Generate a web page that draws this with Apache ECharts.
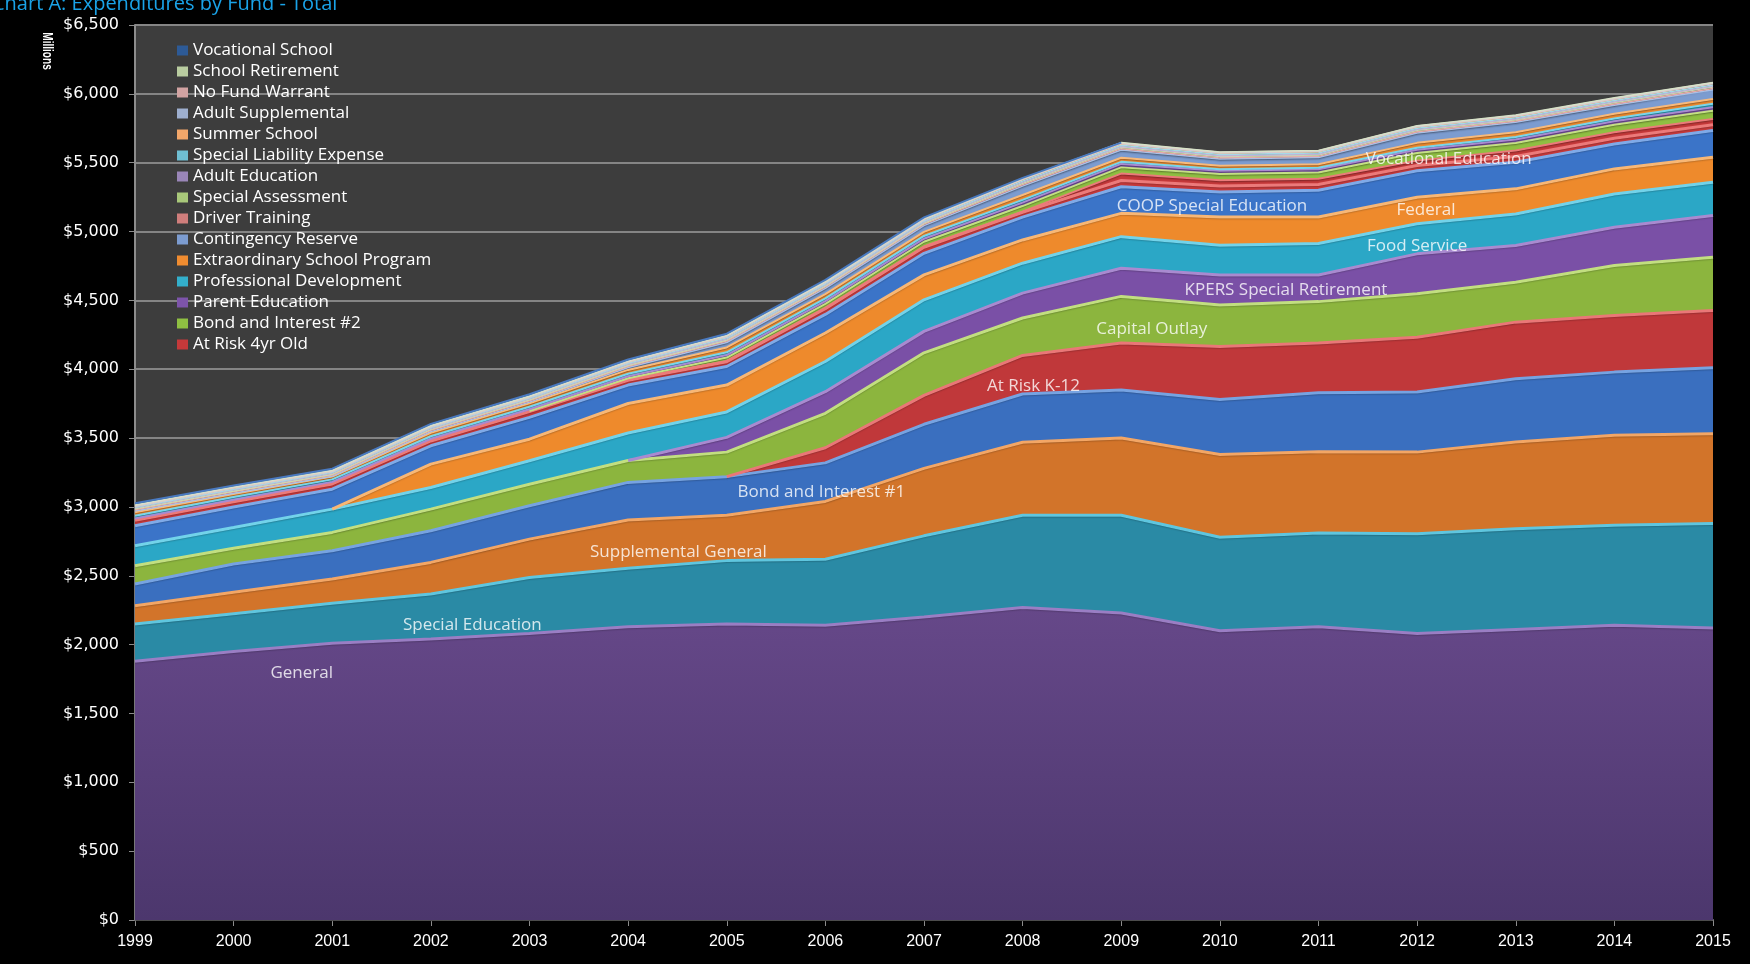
<!DOCTYPE html>
<html>
<head>
<meta charset="utf-8">
<script src="https://cdn.jsdelivr.net/npm/echarts@6/dist/echarts.min.js"></script>
<style>
html,body{margin:0;padding:0;background:#000;}
#chart{width:1750px;height:964px;}
</style>
</head>
<body>
<div id="chart"></div>
<script>
// ---------- DATA (millions of dollars) ----------
const years = ['1999','2000','2001','2002','2003','2004','2005','2006','2007','2008','2009','2010','2011','2012','2013','2014','2015'];

const general                   = [1880,1950,2010,2040,2080,2130,2150,2140,2200,2270,2230,2100,2130,2080,2110,2140,2120];
const specialEducation          = [270,275,290,327,408,425,460,480,590,670,710,680,680,726,732,726,759];
const supplementalGeneral       = [133,155,176,230,278,350,330,420,490,530,560,600,590,592,629,654,653];
const bondInterest1             = [157,205,206,230,242,273,280,280,320,350,350,400,430,436,460,459,478];
const atRiskK12                 = [null,null,null,null,null,null,0,110,210,280,340,385,360,399,411,411,417];
const capitalOutlay             = [133,115,133,157,157,159,178,250,309,272,339,301,301,315,290,363,386];
const kpersSpecialRetirement    = [null,null,null,null,null,0,107,157,156,181,204,218,193,290,266,278,303];
const foodService               = [145,150,169,157,170,200,185,219,229,217,230,217,229,218,230,242,242];
const federal                   = [null,null,0,170,157,214,195,207,181,169,169,205,193,193,182,182,182];
const coopSpecialEducation      = [145,150,145,133,158,134,135,135,157,166,193,182,194,193,193,181,193];
const vocationalEducation       = [40,38,38,35,42,35,35,42,44,35,46,42,42,38,42,42,42];
const atRisk4yrOld              = [5,5,5,5,5,5,5,5,5,5,50,42,42,35,43,43,43];
const bondInterest2             = [null,null,null,null,0,10,25,30,35,40,45,45,45,55,55,55,60];
const parentEducation           = [8,9,10,11,12,14,18,20,22,25,25,24,23,24,25,25,25];
const professionalDevelopment   = [20,20,18,18,18,18,20,20,20,20,15,12,12,15,18,20,25];
const extraordinarySchoolProgram= [25,22,20,25,25,28,35,30,30,35,30,25,25,35,35,35,35];
const contingencyReserve        = [9,6,2,9,9,17,36,42,45,65,56,48,48,72,72,62,67];
const driverTraining            = [10,10,10,10,10,10,11,11,11,11,10,9,9,9,9,9,9];
const specialAssessment         = [6,6,6,6,7,7,8,8,8,9,10,10,10,10,10,10,10];
const adultEducation            = [7,7,7,7,7,7,7,7,7,7,6,6,6,6,6,6,6];
const specialLiabilityExpense   = [6,6,6,6,6,7,8,8,8,9,9,9,9,9,9,9,9];
const summerSchool              = [8,8,8,8,8,9,10,10,10,11,11,10,10,11,11,11,11];
const adultSupplemental         = [2,2,2,2,2,2,2,2,2,2,2,2,2,2,2,2,2];
const noFundWarrant             = [2,2,2,2,2,2,3,3,3,3,3,3,3,3,3,3,3];
const schoolRetirement          = [3,3,3,3,3,3,3,3,3,3,3,3,3,3,3,3,3];
const vocationalSchool          = [12,12,12,12,12,12,12,10,8,5,0,null,null,null,null,null,null];

// in-chart annotation labels (placed in data coordinates: fractional year, value)
const annotationNames  = ['General','Special Education','Supplemental General','Bond and Interest #1','At Risk K-12','Capital Outlay','KPERS Special Retirement','COOP Special Education','Food Service','Federal','Vocational Education'];
const annotationYears  = [2000.69,2002.42,2004.51,2005.96,2008.11,2009.31,2010.67,2009.92,2012.0,2012.09,2012.32];
const annotationValues = [1791,2140,2675,3104,3874,4290,4571,5187,4895,5155,5527];

const yTickMin = 0, yTickMax = 6500, yTickStep = 500;

// ---------- STYLE ----------
const seriesDefs = [
  ['General', general, '#604383', '#9A7EC4', 3],
  ['Special Education', specialEducation, '#2A8AA5', '#5FC6DF', 3],
  ['Supplemental General', supplementalGeneral, '#D2742A', '#F3A665', 3],
  ['Bond and Interest #1', bondInterest1, '#3A6FBF', '#76A3E2', 3],
  ['At Risk K-12', atRiskK12, '#C0383A', '#EA7777', 3],
  ['Capital Outlay', capitalOutlay, '#8CB53E', '#C2DF80', 3],
  ['KPERS Special Retirement', kpersSpecialRetirement, '#7A50A6', '#A98AD0', 3],
  ['Food Service', foodService, '#2BA7C6', '#72D3EA', 3],
  ['Federal', federal, '#EE8A2C', '#F8B775', 3],
  ['COOP Special Education', coopSpecialEducation, '#3B74C8', '#7FAAE8', 3],
  ['Vocational Education', vocationalEducation, '#C5393A', '#EC7A7A', 3],
  ['At Risk 4yr Old', atRisk4yrOld, '#C5393A', '#EC7A7A', 2],
  ['Bond and Interest #2', bondInterest2, '#8FBF42', '#C4E083', 2],
  ['Parent Education', parentEducation, '#7D54AA', '#A98AD0', 2],
  ['Professional Development', professionalDevelopment, '#33AFCB', '#7AD5EA', 2],
  ['Extraordinary School Program', extraordinarySchoolProgram, '#F08C30', '#F9BA7A', 2],
  ['Contingency Reserve', contingencyReserve, '#7C9CD0', '#A9C0E6', 1.5],
  ['Driver Training', driverTraining, '#D07E7C', '#E6AAA8', 1.5],
  ['Special Assessment', specialAssessment, '#A9C87A', '#CCE0AC', 1.5],
  ['Adult Education', adultEducation, '#9A86B8', '#C0B2D6', 1.5],
  ['Special Liability Expense', specialLiabilityExpense, '#6FBFD3', '#A6D9E6', 1.5],
  ['Summer School', summerSchool, '#F3A76A', '#F9CCA6', 1.5],
  ['Adult Supplemental', adultSupplemental, '#9EAFCF', '#C4D0E6', 1.5],
  ['No Fund Warrant', noFundWarrant, '#D2A3A2', '#E6C6C5', 1.5],
  ['School Retirement', schoolRetirement, '#B9CCA0', '#D6E2C8', 1.5],
  ['Vocational School', vocationalSchool, '#2D5A96', '#4A7AC0', 2]
];

const legendNames = ['Vocational School','School Retirement','No Fund Warrant','Adult Supplemental','Summer School','Special Liability Expense','Adult Education','Special Assessment','Driver Training','Contingency Reserve','Extraordinary School Program','Professional Development','Parent Education','Bond and Interest #2','At Risk 4yr Old'];

const series = seriesDefs.map(([name, arr, fill, edge, w], idx) => ({
  name: name,
  type: 'line',
  stack: 'total',
  xAxisIndex: 0,
  data: arr.map(v => v == null ? '-' : v),
  showSymbol: false,
  symbol: 'none',
  smooth: false,
  color: fill,
  lineStyle: { color: edge, width: w },
  areaStyle: {
    color: idx === 0
      ? new echarts.graphic.LinearGradient(0, 0, 0, 1, [{offset: 0, color: '#664889'}, {offset: 1, color: '#4C376D'}])
      : fill,
    opacity: 1,
    shadowColor: 'rgba(0,0,0,0.55)',
    shadowBlur: 2,
    shadowOffsetY: 1.5
  },
  emphasis: { disabled: true },
  silent: true,
  z: 2
}));

series.push({
  name: 'annotations',
  type: 'scatter',
  xAxisIndex: 1,
  data: annotationNames.map((n, i) => [annotationYears[i], annotationValues[i], n]),
  symbolSize: 2,
  itemStyle: { color: 'rgba(0,0,0,0)' },
  label: {
    show: true,
    position: 'inside',
    formatter: p => p.data[2],
    color: '#FFFFFF',
    fontSize: 17,
    fontFamily: 'Open Sans'
  },
  emphasis: { disabled: true },
  silent: true,
  z: 10
});

const axisGray = '#8C8C8C';
const chart = echarts.init(document.getElementById('chart'), null, { renderer: 'canvas' });
chart.setOption({
  animation: false,
  backgroundColor: '#000000',
  grid: {
    left: 135, right: 37, top: 25, bottom: 44,
    show: true, backgroundColor: '#3D3D3D', borderWidth: 0,
    outerBoundsMode: 'none'
  },
  legend: {
    data: legendNames,
    orient: 'vertical',
    left: 177, top: 42,
    padding: 0,
    itemWidth: 11, itemHeight: 10, itemGap: 4,
    icon: 'rect',
    textStyle: { color: '#FFFFFF', fontSize: 17, fontFamily: 'Open Sans', lineHeight: 17 },
    selectedMode: false
  },
  xAxis: [
    {
      type: 'category',
      data: years,
      boundaryGap: false,
      axisLine: { show: true, lineStyle: { color: axisGray, width: 2 } },
      axisTick: { show: true, length: 6, inside: false, lineStyle: { color: axisGray, width: 1 } },
      splitLine: { show: false },
      axisLabel: { color: '#FFFFFF', fontSize: 16, fontFamily: 'Liberation Sans', margin: 14 }
    },
    {
      type: 'value',
      min: Number(years[0]), max: Number(years[years.length - 1]),
      show: false,
      splitLine: { show: false }
    }
  ],
  yAxis: {
    type: 'value',
    min: yTickMin, max: yTickMax, interval: yTickStep,
    axisLine: { show: true, lineStyle: { color: axisGray, width: 2 } },
    axisTick: { show: true, length: 6, inside: false, lineStyle: { color: axisGray, width: 1 } },
    splitLine: { show: true, lineStyle: { color: '#858585', width: 2 } },
    axisLabel: {
      color: '#FFFFFF', fontSize: 16, fontFamily: 'DejaVu Sans', margin: 16,
      formatter: v => '$' + v.toLocaleString('en-US')
    }
  },
  graphic: [
    {
      type: 'text', left: -8, top: -6,
      style: { text: 'Chart A: Expenditures by Fund - Total', fill: '#1AA3E8', fontSize: 20, fontFamily: 'Open Sans' },
      z: 100
    },
    {
      type: 'text', x: 47, y: 51, rotation: -Math.PI / 2, scaleX: 0.72,
      style: { text: 'Millions', fill: '#FFFFFF', fontSize: 14, fontWeight: 'bold', fontFamily: 'Liberation Sans', align: 'center', verticalAlign: 'middle' },
      z: 100
    }
  ],
  series: series
});
</script>
</body>
</html>
